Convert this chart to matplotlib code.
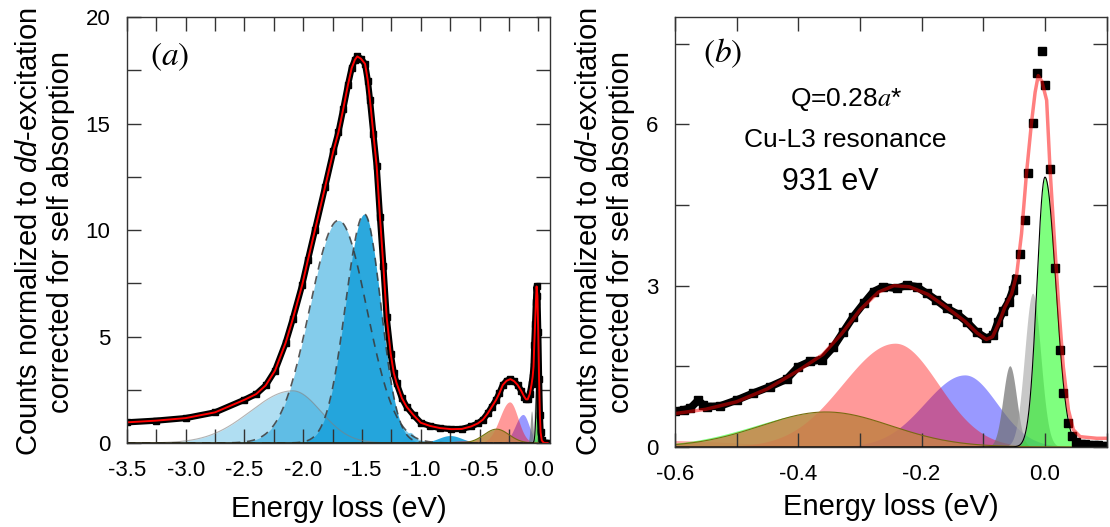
import numpy as np
import matplotlib
matplotlib.use('Agg')
import matplotlib.pyplot as plt
from matplotlib.ticker import MultipleLocator, FormatStrFormatter

plt.rcParams['font.family'] = ['Liberation Sans', 'DejaVu Sans']
plt.rcParams['mathtext.fontset'] = 'custom'
plt.rcParams['mathtext.rm'] = 'Liberation Sans'
plt.rcParams['mathtext.it'] = 'Liberation Sans:italic'
plt.rcParams['axes.unicode_minus'] = False

a_energy = [-3.5, -3.25, -3.0, -2.75, -2.5, -2.4, -2.32, -2.24, -2.15, -2.09,
            -2.01, -1.96, -1.90, -1.815, -1.744, -1.70, -1.659, -1.62, -1.588, -1.56,
            -1.54, -1.51, -1.474, -1.45, -1.432, -1.403, -1.375, -1.347, -1.318, -1.29,
            -1.256, -1.23, -1.205, -1.16, -1.12, -1.06, -1.0, -0.92, -0.835, -0.74,
            -0.65, -0.57, -0.514, -0.47, -0.43, -0.395, -0.359, -0.33, -0.302, -0.27,
            -0.237, -0.205, -0.175, -0.145, -0.119, -0.104, -0.09, -0.072, -0.057, -0.048,
            -0.04, -0.034, -0.027, -0.02, -0.014, -0.007, 0.0, 0.007, 0.014, 0.02,
            0.03, 0.045, 0.06, 0.08]
a_counts = [0.97, 1.05, 1.17, 1.44, 2.03, 2.3, 2.7, 3.4, 4.7, 5.8,
            7.4, 8.6, 10.0, 12.0, 13.7, 14.6, 15.7, 16.8, 17.6, 18.0,
            18.15, 18.05, 17.8, 17.0, 16.1, 14.5, 13.0, 10.6, 8.3, 5.9,
            4.2, 3.3, 2.8, 2.1, 1.7, 1.3, 0.95, 0.8, 0.7, 0.65,
            0.66, 0.78, 0.92, 1.1, 1.39, 1.7, 2.02, 2.35, 2.72, 2.92,
            3.0, 2.9, 2.72, 2.45, 2.17, 2.05, 2.05, 2.3, 2.75, 3.1,
            3.6, 4.6, 5.6, 6.6, 7.35, 6.9, 5.2, 3.0, 1.3, 0.5,
            0.12, 0.02, 0.0, 0.0]

# dd-excitation components of panel (a): centre, height, left / right width
dd_center = [-2.09, -1.70, -1.48, -1.09, -0.75]
dd_height = [2.45, 10.45, 10.75, 0.5, 0.35]
dd_sig_l = [0.36, 0.245, 0.16, 0.04, 0.1]
dd_sig_r = [0.24, 0.24, 0.14, 0.04, 0.1]

# ---- panel (b): measured spectrum and fit ----
b_energy = [-0.600, -0.586, -0.575, -0.562, -0.554, -0.548, -0.527, -0.5, -0.473, -0.446,
            -0.419, -0.40, -0.381, -0.362, -0.343, -0.327, -0.311, -0.294, -0.278, -0.262,
            -0.24, -0.224, -0.208, -0.192, -0.176, -0.159, -0.143, -0.127, -0.111, -0.095,
            -0.084, -0.076, -0.068, -0.059, -0.052, -0.047, -0.041, -0.033, -0.027, -0.020,
            -0.0135, -0.0054, 0.0, 0.008, 0.016, 0.024, 0.03, 0.037, 0.044, 0.051,
            0.058, 0.065, 0.072, 0.079, 0.086, 0.093, 0.1]
b_counts = [0.66, 0.69, 0.72, 0.87, 0.78, 0.75, 0.76, 0.87, 1.0, 1.12,
            1.26, 1.49, 1.59, 1.62, 1.86, 2.14, 2.42, 2.67, 2.89, 2.98,
            2.95, 3.01, 2.98, 2.86, 2.73, 2.58, 2.48, 2.33, 2.14, 2.02,
            2.08, 2.33, 2.52, 2.70, 2.92, 3.13, 3.59, 4.23, 5.09, 6.02,
            6.96, 7.36, 6.73, 5.18, 3.32, 1.80, 1.0, 0.45, 0.2, 0.1,
            0.06, 0.05, 0.04, 0.03, 0.03, 0.02, 0.02]

fit_energy = [-0.6, -0.55, -0.5, -0.45, -0.4, -0.36, -0.33, -0.3, -0.27, -0.245,
              -0.22, -0.19, -0.16, -0.13, -0.11, -0.095, -0.085, -0.075, -0.065, -0.054,
              -0.046, -0.038, -0.03, -0.022, -0.016, -0.011, -0.005, 0.0027, 0.008, 0.0146,
              0.0216, 0.0297, 0.038, 0.046, 0.057, 0.084, 0.1]
fit_counts = [0.62, 0.7, 0.84, 1.08, 1.42, 1.72, 2.1, 2.55, 2.88, 3.0,
              2.98, 2.84, 2.6, 2.34, 2.12, 2.0, 2.05, 2.3, 2.6, 2.85,
              3.2, 3.97, 5.09, 6.02, 6.6, 6.91, 6.8, 6.45, 5.21, 3.97,
              2.73, 1.49, 0.69, 0.32, 0.19, 0.16, 0.16]

# low-energy components (shared by both panels):
# background, broad green, blue, red, broad brown, gray, light gray, elastic green
low_center = [-0.62, -0.355, -0.13, -0.243, -0.355, -0.057, -0.02, 0.0]
low_height = [0.12, 0.65, 1.34, 1.93, 0.65, 1.51, 2.86, 5.02]
low_sig_l = [0.12, 0.115, 0.065, 0.085, 0.105, 0.011, 0.013, 0.013]
low_sig_r = [0.12, 0.105, 0.052, 0.07, 0.105, 0.011, 0.013, 0.0175]


def peak(x, c, h, sl, sr):
    s = np.where(x < c, sl, sr)
    return h * np.exp(-0.5 * ((x - c) / s) ** 2)


low_colors = ['#ff0000', '#00ff00', '#0000ff', '#ff0000', '#cf8151', '#707070',
              '#ababab', '#00ff00']
low_alphas = [0.35, 0.5, 0.4, 0.4, 0.85, 0.7, 0.65, 0.5]
low_edges = ['none', 'none', 'none', 'none', '#7a6a10', 'none', 'none', 'black']


def draw_low(ax, x):
    for c, h, sl, sr, col, al, ed in zip(low_center, low_height, low_sig_l, low_sig_r,
                                         low_colors, low_alphas, low_edges):
        y = peak(x, c, h, sl, sr)
        ax.fill_between(x, 0, y, color=col, alpha=al, lw=0)
        if ed != 'none':
            ax.plot(x, y, color=ed, lw=0.8)


def style_axes(ax, labelpad):
    ax.tick_params(which='both', direction='in', top=True, right=True,
                   length=10, width=1, labelsize=16, pad=12, color='#333333')
    for sp in ax.spines.values():
        sp.set_color('#333333')
        sp.set_linewidth(1)
    ax.set_xlabel('Energy loss (eV)', fontsize=21, labelpad=labelpad)


fig = plt.figure(figsize=(11.1, 5.27), dpi=100)
ax_a = fig.add_axes([0.1144, 0.1594, 0.3811, 0.8083])
ax_b = fig.add_axes([0.608, 0.152, 0.389, 0.8157])

# ---- panel (a) ----
xa = np.linspace(-3.5, 0.1, 2000)
dd_alpha = [0.35, 0.55, 0.95, 0.55, 0.95]
for c, h, sl, sr, al in zip(dd_center, dd_height, dd_sig_l, dd_sig_r, dd_alpha):
    ax_a.fill_between(xa, 0, peak(xa, c, h, sl, sr), color='#1fa3dc', alpha=al, lw=0)
ax_a.plot(xa, peak(xa, dd_center[0], dd_height[0], dd_sig_l[0], dd_sig_r[0]),
          color='#808080', lw=0.8, alpha=0.6)
for i in (1, 2):
    ax_a.plot(xa, peak(xa, dd_center[i], dd_height[i], dd_sig_l[i], dd_sig_r[i]),
              color='#3a3a3a', lw=1.2, ls=(0, (5, 4)), alpha=0.85)
draw_low(ax_a, xa)
ax_a.plot(a_energy, a_counts, 's-', color='black', lw=4.5, ms=4.5)
ax_a.plot(a_energy, a_counts, color='red', lw=1.4)

ax_a.set_xlim(-3.5, 0.1)
ax_a.set_ylim(0, 20)
ax_a.xaxis.set_major_locator(MultipleLocator(0.5))
ax_a.xaxis.set_minor_locator(MultipleLocator(0.25))
ax_a.xaxis.set_major_formatter(FormatStrFormatter('%.1f'))
ax_a.yaxis.set_major_locator(MultipleLocator(5))
ax_a.yaxis.set_minor_locator(MultipleLocator(2.5))
style_axes(ax_a, 10)
ax_a.text(0.102, 0.906, r'$(\mathit{a})$', transform=ax_a.transAxes, fontsize=24,
          math_fontfamily='stix', ha='center', va='center')

# ---- panel (b) ----
xb = np.linspace(-0.6, 0.1, 2000)
draw_low(ax_b, xb)
b_e = np.array(b_energy)
b_c = np.array(b_counts)
dense = b_e < -0.045
ax_b.plot(b_e[dense], b_c[dense], color='black', lw=5.5)
ax_b.plot(b_e, b_c, 's', color='black', ms=5.5)
ax_b.plot(fit_energy, fit_counts, color='red', lw=2.5, alpha=0.5)

ax_b.set_xlim(-0.6, 0.1)
ax_b.set_ylim(0, 8)
ax_b.xaxis.set_major_locator(MultipleLocator(0.2))
ax_b.xaxis.set_minor_locator(MultipleLocator(0.1))
ax_b.xaxis.set_major_formatter(FormatStrFormatter('%.1f'))
ax_b.yaxis.set_major_locator(MultipleLocator(3))
ax_b.yaxis.set_minor_locator(MultipleLocator(1.5))
style_axes(ax_b, 6)
ax_b.text(0.111, 0.916, r'$(\mathit{b})$', transform=ax_b.transAxes, fontsize=24,
          math_fontfamily='stix', ha='center', va='center')
ax_b.text(0.397, 0.807, r'Q=0.28$\mathit{a}$*', transform=ax_b.transAxes, fontsize=19,
          math_fontfamily='stix', ha='center', va='center')
ax_b.text(0.394, 0.714, 'Cu-L3 resonance', transform=ax_b.transAxes, fontsize=19,
          ha='center', va='center')
ax_b.text(0.359, 0.616, '931 eV', transform=ax_b.transAxes, fontsize=22,
          ha='center', va='center')

ylab = 'Counts normalized to $\\mathit{dd}$-excitation\ncorrected for self absorption'
fig.text(45 / 1110, 0.56, ylab, rotation=90, fontsize=21, ha='center', va='center',
         multialignment='center')
fig.text(605 / 1110, 0.56, ylab, rotation=90, fontsize=21, ha='center', va='center',
         multialignment='center')

fig.savefig('out.png', dpi=100)
